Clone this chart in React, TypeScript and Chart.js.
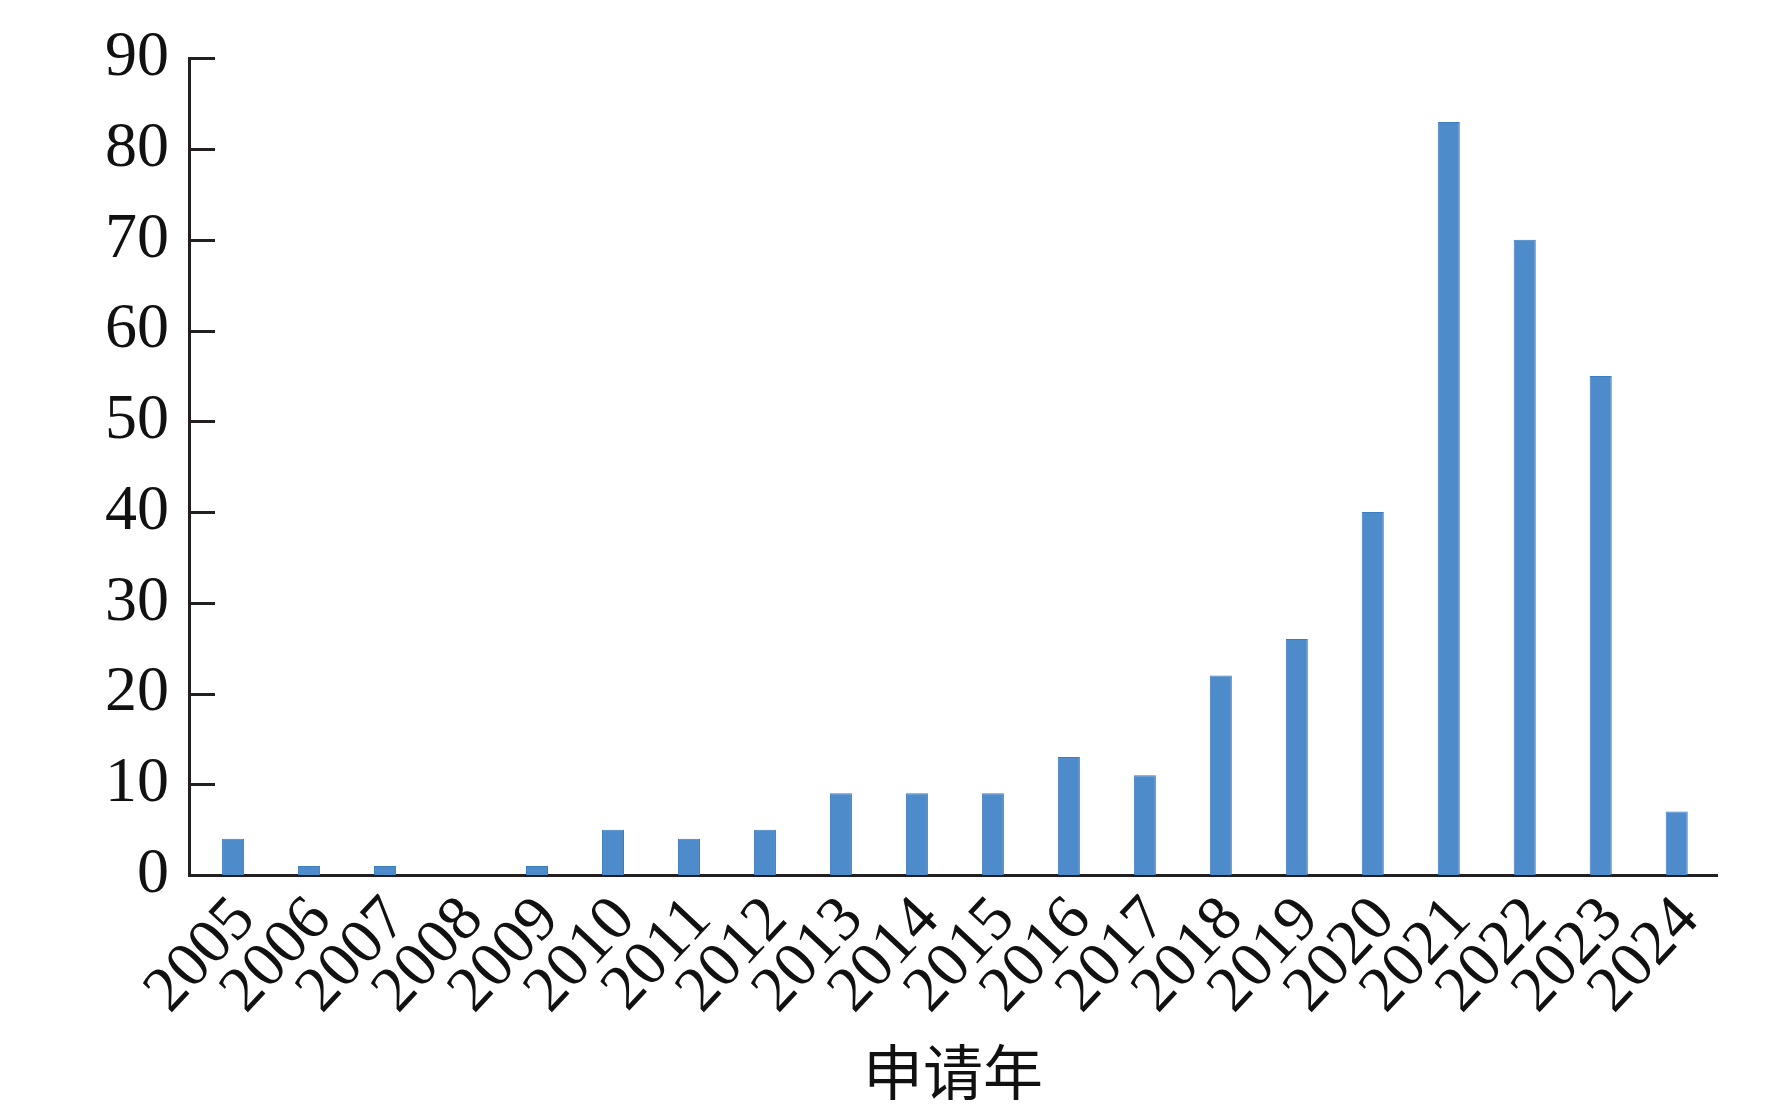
import React, { useEffect, useRef } from "react";
import { Chart, registerables } from "chart.js";

Chart.register(...registerables);

const years = [2005, 2006, 2007, 2008, 2009, 2010, 2011, 2012, 2013, 2014, 2015, 2016, 2017, 2018, 2019, 2020, 2021, 2022, 2023, 2024];
const counts = [4, 1, 1, 0, 1, 5, 4, 5, 9, 9, 9, 13, 11, 22, 26, 40, 83, 70, 55, 7];
const yTicks = [0, 10, 20, 30, 40, 50, 60, 70, 80, 90];
const xTitle = "申请年";

const AXIS_COLOR = "#231f20";
const SERIF = "'Liberation Serif', 'Times New Roman', serif";

const innerTicks = {
  id: "innerTicks",
  afterDatasetsDraw(chart: any) {
    const y = chart.scales.y;
    const { ctx, chartArea } = chart;
    ctx.save();
    ctx.strokeStyle = AXIS_COLOR;
    ctx.lineWidth = 3;
    for (const v of yTicks) {
      if (v === 0) continue;
      const py = Math.round(y.getPixelForValue(v)) + 0.5;
      ctx.beginPath();
      ctx.moveTo(chartArea.left, py);
      ctx.lineTo(chartArea.left + 26, py);
      ctx.stroke();
    }
    ctx.restore();
  },
};

export default function App() {
  const ref = useRef<HTMLCanvasElement>(null);
  useEffect(() => {
    if (!ref.current) return;
    const chart = new Chart(ref.current, {
      type: "bar",
      data: {
        datasets: [
          {
            data: years.map((yr, i) => ({ x: yr, y: counts[i] })),
            backgroundColor: "#4e8bcb",
            borderColor: "#3d7bbf",
            borderWidth: 1,
            barPercentage: 0.29,
            categoryPercentage: 1,
          },
        ],
      },
      options: {
        responsive: false,
        animation: false,
        devicePixelRatio: 1,
        layout: { padding: { top: 53, right: 55, bottom: 0, left: 0 } },
        plugins: { legend: { display: false }, tooltip: { enabled: false } },
        scales: {
          x: {
            type: "linear",
            offset: false,
            min: years[0] - 0.58,
            max: years[years.length - 1] + 0.53,
            grid: { display: false, drawTicks: false, offset: false },
            border: { display: true, color: AXIS_COLOR, width: 3 },
            ticks: {
              stepSize: 1,
              includeBounds: false,
              autoSkip: false,
              callback: (v: any) => String(v),
              color: "#111",
              font: { family: SERIF, size: 64 },
              minRotation: 47,
              maxRotation: 47,
              padding: 8,
              labelOffset: 12,
            },
            title: {
              display: true,
              text: xTitle,
              color: "#111",
              font: { family: "'Noto Sans CJK SC', sans-serif", size: 60 },
              padding: { top: 0, bottom: 10 },
            },
            afterFit(scale: any) {
              scale.height = 1118 - 875;
            },
          },
          y: {
            min: 0,
            max: 90,
            grid: { display: false, drawTicks: false },
            border: { display: true, color: AXIS_COLOR, width: 3 },
            ticks: {
              stepSize: 10,
              color: "#111",
              font: { family: SERIF, size: 64 },
              padding: 20,
            },
            afterFit(scale: any) {
              scale.width = 189;
            },
          },
        },
      },
      plugins: [innerTicks],
    });
    return () => chart.destroy();
  }, []);
  return (
    <div style={{ position: "fixed", left: 0, top: 0, width: 1772, height: 1118, background: "#fff" }}>
      <canvas ref={ref} width={1772} height={1118} style={{ display: "block" }} />
    </div>
  );
}
